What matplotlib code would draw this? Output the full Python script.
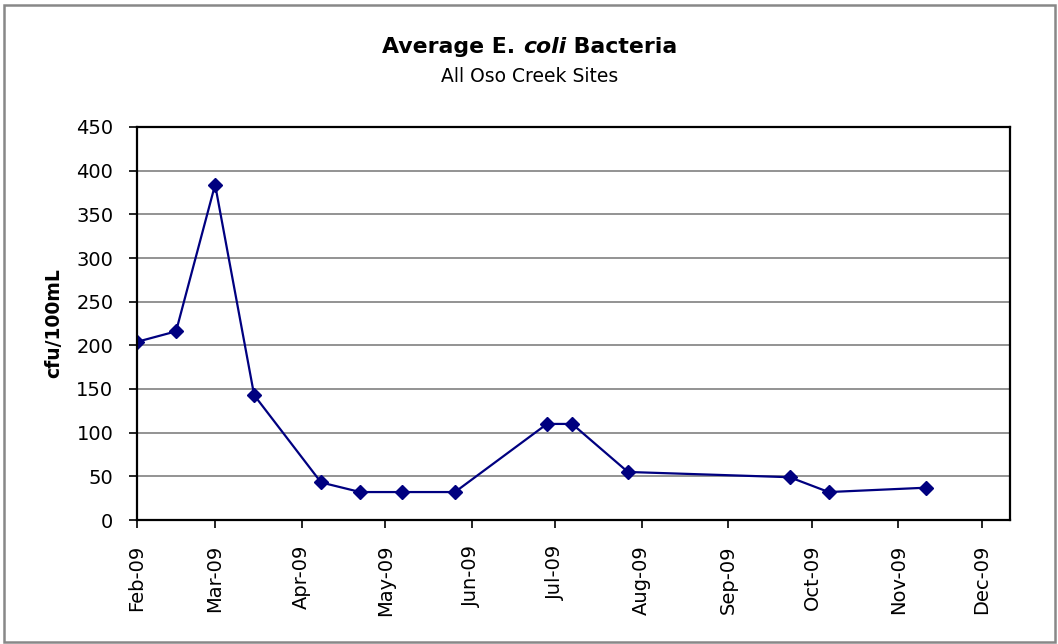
import numpy as np
import pandas as pd
import matplotlib
matplotlib.use("Agg")
import matplotlib.pyplot as plt
import matplotlib.dates as mdates
from matplotlib.patches import Rectangle

plt.rcParams['font.family'] = ['DejaVu Sans']

### data: sampling dates and average counts
sample_dates = ["2009-02-01", "2009-02-15", "2009-03-01", "2009-03-15", "2009-04-08",
                "2009-04-22", "2009-05-07", "2009-05-26", "2009-06-28", "2009-07-07",
                "2009-07-27", "2009-09-23", "2009-10-07", "2009-11-11"]
ecoli_avg = [204, 216, 384, 143, 43, 32, 32, 32, 110, 110, 55, 49, 32, 37]
y_ticks = [0, 50, 100, 150, 200, 250, 300, 350, 400, 450]

dates = pd.to_datetime(sample_dates)

W, H = 1058, 644
fig = plt.figure(figsize=(W / 100, H / 100), dpi=100)
ax = fig.add_axes([137 / W, 1 - 520 / H, 873 / W, 393 / H])

ax.yaxis.grid(True, color='#8a8a8a', linewidth=1.3)
ax.set_axisbelow(True)
ax.plot(dates, ecoli_avg, color='#000080', linewidth=1.6, marker='D',
        markersize=7, markerfacecolor='#000080', markeredgecolor='#000080')

ax.set_ylim(0, 450)
ax.set_yticks(y_ticks)
ax.set_xlim(pd.Timestamp("2009-02-01"), pd.Timestamp("2009-12-11"))
ax.xaxis.set_major_locator(mdates.MonthLocator(bymonthday=1))
ax.xaxis.set_major_formatter(mdates.DateFormatter('%b-%y'))
for lbl in ax.get_xticklabels():
    lbl.set_rotation(90)

ax.tick_params(axis='both', direction='out', length=6, width=1.2, labelsize=14, colors='black')
ax.tick_params(axis='x', pad=12)
ax.tick_params(axis='y', pad=11)
for sp in ax.spines.values():
    sp.set_linewidth(1.6)
    sp.set_color('black')

ax.set_ylabel('cfu/100mL', fontsize=13.5, fontweight='bold')
ax.yaxis.set_label_coords((63 - 137) / 873, 0.5)

# title with italic genus name, drawn piece by piece
fig.canvas.draw()
r = fig.canvas.get_renderer()
parts = [("Average E. ", 'normal'), ("coli", 'italic'), (" Bacteria", 'normal')]
tsize = 15.8
widths = []
for s, st in parts:
    t = fig.text(0, 0, s, fontsize=tsize, fontweight='bold', style=st)
    widths.append(t.get_window_extent(r).width)
    t.remove()
x0 = (530 - sum(widths) / 2) / W
for (s, st), w in zip(parts, widths):
    fig.text(x0, 1 - 47 / H, s, fontsize=tsize, fontweight='bold', style=st, va='center', ha='left')
    x0 += w / W
fig.text(530 / W, 1 - 77 / H, "All Oso Creek Sites", fontsize=13.5, ha='center', va='center')

# outer frame
fig.patches.append(Rectangle((4 / W, 2 / H), 1051 / W, 637 / H, transform=fig.transFigure,
                             fill=False, edgecolor='#888888', linewidth=1.8))

fig.savefig('out.png', dpi=100)
